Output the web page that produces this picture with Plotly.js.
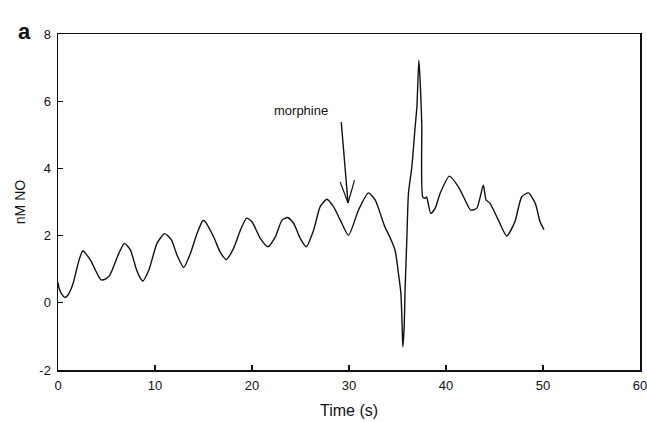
<!DOCTYPE html>
<html>
<head>
<meta charset="utf-8">
<script src="https://cdn.plot.ly/plotly-3.0.1.min.js"></script>
<style>html,body{margin:0;padding:0;background:#fff;}#chart{width:647px;height:422px;}</style>
</head>
<body>
<div id="chart"></div>
<script>
var timeS = [0, 0.1, 0.4, 0.7, 1.0, 1.3, 1.6, 1.9, 2.2, 2.56, 2.9, 3.35, 3.86, 4.2, 4.48, 4.96, 5.3, 5.58, 6.27, 6.85, 7.47, 8.05, 8.4, 8.74, 9.36, 10.21, 11.0, 11.69, 12.27, 12.96, 13.65, 14.33, 14.91, 15.1, 16.05, 16.7, 17.35, 18.1, 18.8, 19.45, 20.0, 20.85, 21.65, 22.4, 23.1, 23.67, 24.3, 24.97, 25.6, 26.35, 27.03, 27.72, 28.4, 29.1, 29.95, 30.98, 32.0, 32.7, 33.4, 33.7, 34.3, 34.76, 35.1, 35.35, 35.48, 35.55, 35.69, 35.79, 35.96, 36.13, 36.48, 36.82, 37.0, 37.2, 37.33, 37.5, 37.6, 37.85, 38.0, 38.43, 38.88, 39.4, 40.35, 41.28, 41.97, 42.55, 43.17, 43.85, 44.13, 44.54, 45.4, 46.26, 47.1, 47.8, 48.5, 49.2, 49.7, 50.1];
var nmNO = [0.6, 0.45, 0.25, 0.16, 0.22, 0.38, 0.62, 0.97, 1.3, 1.55, 1.45, 1.27, 0.97, 0.78, 0.68, 0.72, 0.8, 0.97, 1.47, 1.77, 1.57, 1.02, 0.78, 0.65, 0.97, 1.77, 2.06, 1.87, 1.42, 1.05, 1.47, 2.06, 2.44, 2.44, 1.96, 1.52, 1.29, 1.62, 2.16, 2.52, 2.41, 1.92, 1.67, 1.96, 2.46, 2.54, 2.36, 1.92, 1.67, 2.16, 2.86, 3.08, 2.86, 2.46, 2.01, 2.76, 3.27, 3.06, 2.5, 2.26, 1.9, 1.55, 0.87, 0.28, -0.71, -1.31, -0.71, 0.48, 1.87, 3.26, 4.05, 5.24, 5.83, 7.22, 6.63, 5.34, 3.15, 3.11, 3.15, 2.66, 2.81, 3.26, 3.77, 3.45, 3.06, 2.76, 2.81, 3.5, 3.06, 2.96, 2.46, 1.99, 2.41, 3.15, 3.27, 2.96, 2.41, 2.18];
var xTicks = [0, 10, 20, 30, 40, 50, 60];
var yTicks = [-2, 0, 2, 4, 6, 8];
var labelText = "morphine";
var panelText = "a";

var ff = "Liberation Sans, Arial, sans-serif";
var trace = {
  x: timeS, y: nmNO, type: 'scatter', mode: 'lines',
  line: {color: '#111', width: 1.4, shape: 'spline', smoothing: 0.6},
  hoverinfo: 'skip'
};
var layout = {
  width: 647, height: 422,
  margin: {l: 57.5, r: 7, t: 33.5, b: 52},
  paper_bgcolor: '#fff', plot_bgcolor: '#fff',
  showlegend: false,
  font: {family: ff, color: '#111', size: 13},
  xaxis: {
    range: [0, 60], tickvals: xTicks, ticktext: xTicks.map(String),
    ticks: 'inside', ticklen: 5, tickwidth: 1.2, tickcolor: '#111',
    showline: true, linecolor: '#111', linewidth: 1.5, mirror: true,
    showgrid: false, zeroline: false, ticklabelstandoff: 3, ticklabeloverflow: 'allow',
    tickfont: {family: ff, size: 13, color: '#111'},
    title: {text: 'Time (s)', font: {family: ff, size: 16, color: '#111'}, standoff: 12}
  },
  yaxis: {
    range: [-2, 8], tickvals: yTicks, ticktext: yTicks.map(String),
    ticks: 'inside', ticklen: 5, tickwidth: 1.2, tickcolor: '#111',
    showline: true, linecolor: '#111', linewidth: 1.5, mirror: true,
    showgrid: false, zeroline: false, ticklabelstandoff: 3, ticklabeloverflow: 'allow',
    tickfont: {family: ff, size: 13, color: '#111'},
    title: {text: 'nM NO', font: {family: ff, size: 14, color: '#111'}, standoff: 10}
  },
  annotations: [
    {x: 25.0, y: 5.73, xref: 'x', yref: 'y', text: labelText, showarrow: false,
     font: {family: ff, size: 13, color: '#111'}},
    {x: -0.073, y: 1.05, xref: 'paper', yref: 'paper', text: '<b>' + panelText + '</b>', showarrow: false,
     font: {family: ff, size: 22, color: '#111'}}
  ],
  shapes: [
    {type: 'line', xref: 'x', yref: 'y', x0: 29.2, y0: 5.38, x1: 29.9, y1: 2.97, line: {color: '#111', width: 1.4}},
    {type: 'line', xref: 'x', yref: 'y', x0: 29.09, y0: 3.6, x1: 29.9, y1: 2.97, line: {color: '#111', width: 1.2}},
    {type: 'line', xref: 'x', yref: 'y', x0: 30.57, y0: 3.65, x1: 29.9, y1: 2.97, line: {color: '#111', width: 1.2}}
  ]
};
Plotly.newPlot('chart', [trace], layout, {staticPlot: true, displayModeBar: false});
</script>
</body>
</html>
